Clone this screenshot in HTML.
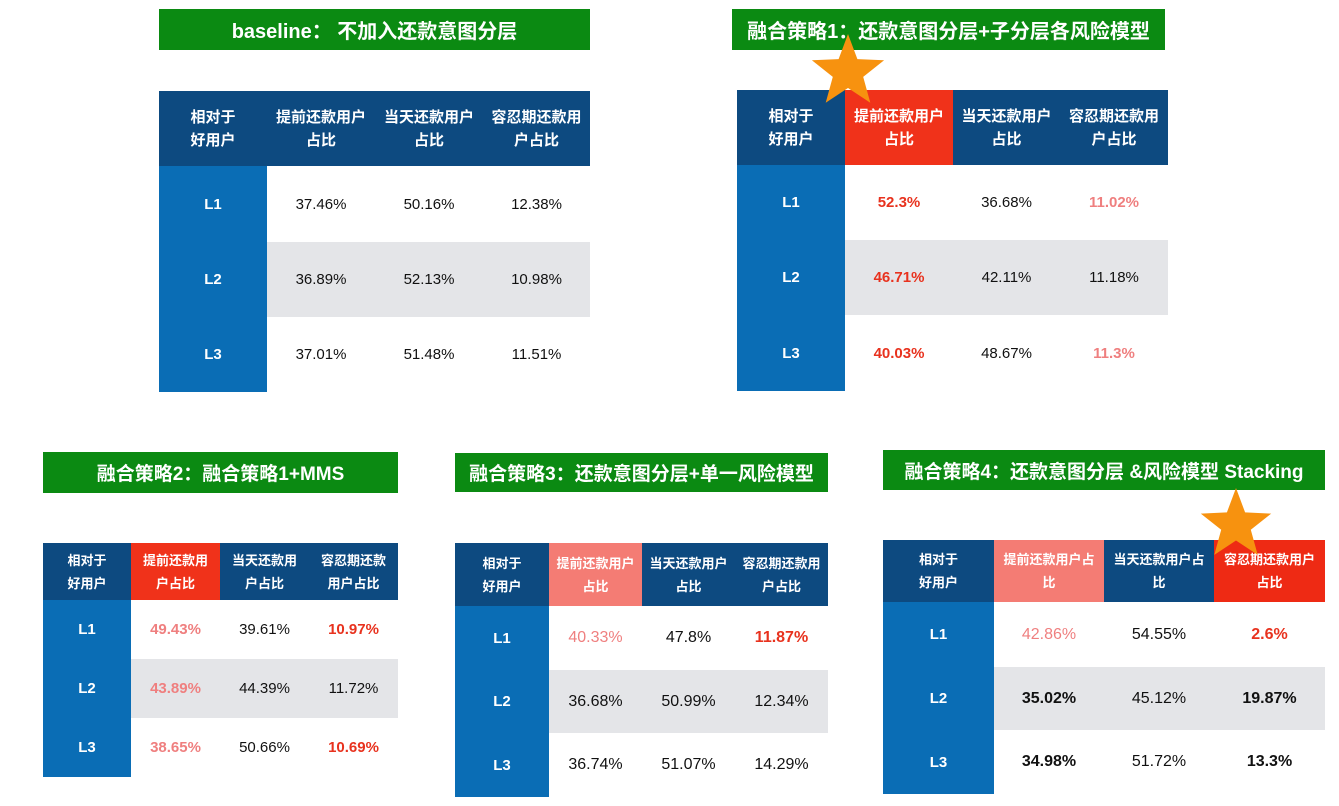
<!DOCTYPE html>
<html><head><meta charset="utf-8"><style>
body{margin:0;width:1339px;height:806px;background:#fff;position:relative;overflow:hidden;font-family:"Liberation Sans","Noto Sans CJK SC",sans-serif}
.t{position:absolute;background:#0b8a12;color:#fff;font-weight:bold;display:flex;align-items:center;justify-content:center;font-size:20px;white-space:nowrap}
.c{position:absolute;display:flex;align-items:center;justify-content:center;text-align:center;box-sizing:border-box}
.h{color:#fff;font-weight:bold;font-size:15px;line-height:23px;background:#0d4a80;padding:0 4px}
.l{color:#fff;font-weight:bold;font-size:15px;background:#0a6db5}
.v{font-size:15px;color:#111}
</style></head><body>
<script>
var titles=["baseline：  不加入还款意图分层","融合策略1：还款意图分层+子分层各风险模型","融合策略2：融合策略1+MMS","融合策略3：还款意图分层+单一风险模型","融合策略4：还款意图分层 &风险模型 Stacking"];
var heads=[["相对于<br>好用户","提前还款用户<br>占比","当天还款用户<br>占比","容忍期还款用<br>户占比"],
["相对于<br>好用户","提前还款用户<br>占比","当天还款用户<br>占比","容忍期还款用<br>户占比"],
["相对于<br>好用户","提前还款用<br>户占比","当天还款用<br>户占比","容忍期还款<br>用户占比"],
["相对于<br>好用户","提前还款用户<br>占比","当天还款用户<br>占比","容忍期还款用<br>户占比"],
["相对于<br>好用户","提前还款用户占<br>比","当天还款用户占<br>比","容忍期还款用户<br>占比"]];
var headBg=[["","","",""],["","#f0321a","",""],["","#f0321a","",""],["","#f47c74","",""],["","#f47c74","","#ee2a14"]];
var vals=[[["37.46%","50.16%","12.38%"],["36.89%","52.13%","10.98%"],["37.01%","51.48%","11.51%"]],
[["52.3%","36.68%","11.02%"],["46.71%","42.11%","11.18%"],["40.03%","48.67%","11.3%"]],
[["49.43%","39.61%","10.97%"],["43.89%","44.39%","11.72%"],["38.65%","50.66%","10.69%"]],
[["40.33%","47.8%","11.87%"],["36.68%","50.99%","12.34%"],["36.74%","51.07%","14.29%"]],
[["42.86%","54.55%","2.6%"],["35.02%","45.12%","19.87%"],["34.98%","51.72%","13.3%"]]];
var R="#e8321e",P="#ef7f7f",B="#111";
var styles=[[["","",""],["","",""],["","",""]],
[[R+"b",B,P+"b"],[R+"b",B,B],[R+"b",B,P+"b"]],
[[P+"b",B,R+"b"],[P+"b",B,B],[P+"b",B,R+"b"]],
[[P,B,R+"b"],[B,B,B],[B,B,B]],
[[P,B,R+"b"],[B+"b",B,B+"b"],[B+"b",B,B+"b"]]];
var geo=[{tx:159,ty:9,tw:431,th:41,x:[159,267,375,483,590],y:[91,166,242,317,392]},
{tx:732,ty:9,tw:433,th:41,x:[737,845,953,1060,1168],y:[90,165,240,315,391]},
{tx:43,ty:452,tw:355,th:41,x:[43,131,220,309,398],y:[543,600,659,718,777]},
{tx:455,ty:453,tw:373,th:39,x:[455,549,642,735,828],y:[543,606,670,733,797]},
{tx:883,ty:450,tw:442,th:40,x:[883,994,1104,1214,1325],y:[540,602,667,730,794]}];
function box(cls,x,y,w,h,html,name){var d=document.createElement('div');d.className=cls;


d.style.cssText+='left:'+x+'px;top:'+y+'px;width:'+w+'px;height:'+h+'px';d.innerHTML=html;document.body.appendChild(d);return d;}
geo.forEach(function(g,i){
 var t=box('t',g.tx,g.ty,g.tw,g.th,titles[i],'table-title');
 if(i>=2)t.style.fontSize='19px';
 for(var c=0;c<4;c++){var h=box('c h',g.x[c],g.y[0],g.x[c+1]-g.x[c],g.y[1]-g.y[0],heads[i][c],'column-header');
  if(headBg[i][c])h.style.background=headBg[i][c];
  if(i>=2)h.style.fontSize='13px';}
 for(var r=0;r<3;r++){
  if(r==1)box('c',g.x[1],g.y[2],g.x[4]-g.x[1],g.y[3]-g.y[2],'','row-band').style.background='#e4e5e8';
  box('c l',g.x[0],g.y[r+1],g.x[1]-g.x[0],g.y[r+2]-g.y[r+1],'L'+(r+1),'row-label');
  for(var c=0;c<3;c++){var s=styles[i][r][c]||B;
   var v=box('c v',g.x[c+1],g.y[r+1],g.x[c+2]-g.x[c+1],g.y[r+2]-g.y[r+1],vals[i][r][c],'value-cell');
   if(i>=3)v.style.fontSize='16px';
   v.style.color=s.replace('b','');if(s.indexOf('b')>0)v.style.fontWeight='bold';}
 }
});
function star(cx,cy,r){var pts=[];for(var k=0;k<10;k++){var a=-Math.PI/2+k*Math.PI/5,rr=k%2?r*0.42:r;pts.push((cx+rr*Math.cos(a)).toFixed(1)+','+(cy+rr*Math.sin(a)).toFixed(1));}
 var s=document.createElementNS('http://www.w3.org/2000/svg','svg');s.setAttribute('width','1339');s.setAttribute('height','806');s.style.cssText='position:absolute;left:0;top:0;pointer-events:none';
 
 
 s.innerHTML='<polygon points="'+pts.join(' ')+'" fill="#f7920f"/>';document.body.appendChild(s);}
star(848,72,38);star(1236,525,37);
</script>
</body></html>
